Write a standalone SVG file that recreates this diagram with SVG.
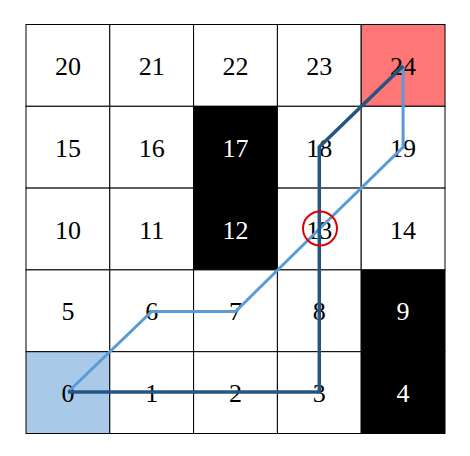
<svg xmlns="http://www.w3.org/2000/svg" width="470" height="456" viewBox="0 0 470 456">
<style>
.c{stroke:#000;stroke-width:1;fill:#fff}
.k{fill:#000}
.t{font-family:"Liberation Serif","Times New Roman",serif;font-size:26px;text-anchor:middle;fill:#000}
.w{fill:#fff}
.lt{fill:none;stroke:#5b9bd5;stroke-width:3;stroke-linejoin:miter}
.dk{fill:none;stroke:#255582;stroke-width:3.5;stroke-linejoin:miter}
</style>
<rect width="470" height="456" fill="#fff"/>
<g id="grid">
<g id="n20"><rect class="c" x="26" y="24.5" width="83.8" height="81.8"/><text class="t" x="67.9" y="74.9">20</text></g>
<g id="n21"><rect class="c" x="109.8" y="24.5" width="83.8" height="81.8"/><text class="t" x="151.7" y="74.9">21</text></g>
<g id="n22"><rect class="c" x="193.6" y="24.5" width="83.8" height="81.8"/><text class="t" x="235.5" y="74.9">22</text></g>
<g id="n23"><rect class="c" x="277.4" y="24.5" width="83.8" height="81.8"/><text class="t" x="319.3" y="74.9">23</text></g>
<g id="n24"><rect class="c" x="361.2" y="24.5" width="83.8" height="81.8" style="fill:#ff7676"/><text class="t" x="403.1" y="74.9">24</text></g>
<g id="n15"><rect class="c" x="26" y="106.3" width="83.8" height="81.8"/><text class="t" x="67.9" y="156.7">15</text></g>
<g id="n16"><rect class="c" x="109.8" y="106.3" width="83.8" height="81.8"/><text class="t" x="151.7" y="156.7">16</text></g>
<g id="n17"><rect class="c k" x="193.6" y="106.3" width="83.8" height="81.8" style="fill:#000"/><text class="t w" x="235.5" y="156.7" style="fill:#fff">17</text></g>
<g id="n18"><rect class="c" x="277.4" y="106.3" width="83.8" height="81.8"/><text class="t" x="319.3" y="156.7">18</text></g>
<g id="n19"><rect class="c" x="361.2" y="106.3" width="83.8" height="81.8"/><text class="t" x="403.1" y="156.7">19</text></g>
<g id="n10"><rect class="c" x="26" y="188.1" width="83.8" height="81.8"/><text class="t" x="67.9" y="238.5">10</text></g>
<g id="n11"><rect class="c" x="109.8" y="188.1" width="83.8" height="81.8"/><text class="t" x="151.7" y="238.5">11</text></g>
<g id="n12"><rect class="c" x="193.6" y="188.1" width="83.8" height="81.8" style="fill:#000"/><text class="t" x="235.5" y="238.5" style="fill:#fff">12</text></g>
<g id="n13"><rect class="c" x="277.4" y="188.1" width="83.8" height="81.8"/><text class="t" x="319.3" y="238.5">13</text></g>
<g id="n14"><rect class="c" x="361.2" y="188.1" width="83.8" height="81.8"/><text class="t" x="403.1" y="238.5">14</text></g>
<g id="n5"><rect class="c" x="26" y="269.9" width="83.8" height="81.8"/><text class="t" x="67.9" y="320.3">5</text></g>
<g id="n6"><rect class="c" x="109.8" y="269.9" width="83.8" height="81.8"/><text class="t" x="151.7" y="320.3">6</text></g>
<g id="n7"><rect class="c" x="193.6" y="269.9" width="83.8" height="81.8"/><text class="t" x="235.5" y="320.3">7</text></g>
<g id="n8"><rect class="c" x="277.4" y="269.9" width="83.8" height="81.8"/><text class="t" x="319.3" y="320.3">8</text></g>
<g id="n9"><rect class="c" x="361.2" y="269.9" width="83.8" height="81.8" style="fill:#000"/><text class="t" x="403.1" y="320.3" style="fill:#fff">9</text></g>
<g id="n0"><rect class="c" x="26" y="351.7" width="83.8" height="81.8" style="fill:#a9c9e9"/><text class="t" x="67.9" y="402.1">0</text></g>
<g id="n1"><rect class="c" x="109.8" y="351.7" width="83.8" height="81.8"/><text class="t" x="151.7" y="402.1">1</text></g>
<g id="n2"><rect class="c" x="193.6" y="351.7" width="83.8" height="81.8"/><text class="t" x="235.5" y="402.1">2</text></g>
<g id="n3"><rect class="c" x="277.4" y="351.7" width="83.8" height="81.8"/><text class="t" x="319.3" y="402.1">3</text></g>
<g id="n4"><rect class="c" x="361.2" y="351.7" width="83.8" height="81.8" style="fill:#000"/><text class="t" x="403.1" y="402.1" style="fill:#fff">4</text></g>
</g>
<g id="connectors">
<polyline class="lt" points="68,392 151.7,311.5 235.5,311.5 319.3,229 403.1,147 403.1,66"/>
<polyline class="dk" points="68,392 319.3,392 319.3,147 403.1,66"/>
<circle cx="320" cy="228.5" r="17" fill="none" stroke="#e00000" stroke-width="2"/>
</g>
</svg>
